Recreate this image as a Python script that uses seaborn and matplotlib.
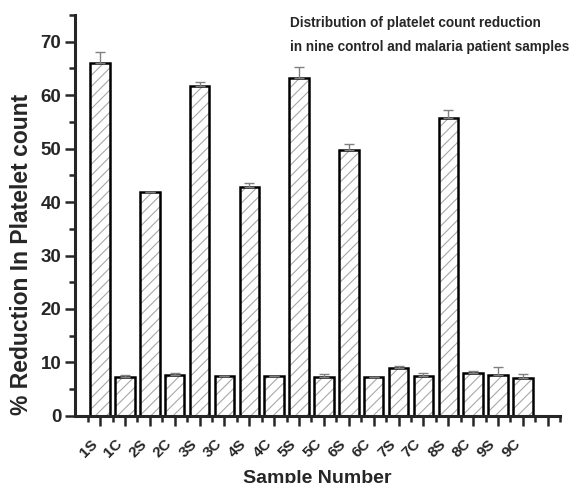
import numpy as np
import pandas as pd
import matplotlib
matplotlib.use('Agg')
import matplotlib.pyplot as plt
import seaborn as sns
from matplotlib.ticker import MultipleLocator

samples = ['1S', '1C', '2S', '2C', '3S', '3C', '4S', '4C', '5S',
           '5C', '6S', '6C', '7S', '7C', '8S', '8C', '9S', '9C']
reduction = [66.0, 7.2, 41.8, 7.7, 61.7, 7.55, 42.9, 7.4, 63.3,
             7.2, 49.7, 7.2, 8.9, 7.4, 55.8, 8.1, 7.6, 7.0]
error = [2.1, 0.45, 0.1, 0.35, 0.8, 0.0, 0.6, 0.1, 2.0,
         0.6, 1.2, 0.1, 0.5, 0.55, 1.5, 0.2, 1.45, 0.8]

df = pd.DataFrame({'Sample': samples, 'Reduction': reduction, 'Err': error})

sns.set_style('ticks')
plt.rcParams['font.family'] = ['Liberation Sans', 'DejaVu Sans']
plt.rcParams['hatch.color'] = '#a8a8a8'
plt.rcParams['hatch.linewidth'] = 0.8

fig = plt.figure(figsize=(5.74, 4.83), dpi=100)
ax = fig.add_axes([0.131, 0.139, 0.845, 0.830])

# hatched fill in light gray, then black outlines on top
sns.barplot(data=df, x='Sample', y='Reduction', color='white', edgecolor='#a8a8a8',
            linewidth=0, width=0.78, hatch='///', ax=ax, errorbar=None)
sns.barplot(data=df, x='Sample', y='Reduction', color='black', fill=False,
            linewidth=1.8, width=0.78, ax=ax, errorbar=None)

pos = np.arange(len(samples))
ax.errorbar(pos, df['Reduction'], yerr=[np.zeros(len(error)), df['Err']],
            fmt='none', ecolor='#808080', elinewidth=1.0, capsize=3.5, capthick=1.0)

ax.set_xlim(-1, 18.5)
ax.set_ylim(0, 75)
ax.set_xticks(range(19))
ax.set_xticklabels(samples + [''], rotation=45, ha='right', fontsize=11, fontweight='bold')
ax.set_xticks(np.arange(-0.5, 19, 1), minor=True)
ax.yaxis.set_minor_locator(MultipleLocator(5))
ax.set_yticks(range(0, 80, 10))
ax.set_yticklabels([str(v) for v in range(0, 80, 10)], fontsize=13.5, fontweight='bold')

ax.tick_params(axis='both', which='major', direction='out', length=7, width=1.8)
ax.tick_params(axis='both', which='minor', direction='out', length=4, width=1.8)
ax.tick_params(axis='x', which='major', pad=8)
ax.tick_params(axis='y', which='major', pad=3)

for s in ['left', 'bottom']:
    ax.spines[s].set_linewidth(2.2)
sns.despine(ax=ax)

ax.set_xlabel('Sample Number', fontsize=14, fontweight='bold', labelpad=7)
ax.set_ylabel('% Reduction In Platelet count', fontsize=16.5, fontweight='bold')
ax.yaxis.set_label_coords(-0.087, 0.404)

ax.text(0.442, 0.998, 'Distribution of platelet count reduction\nin nine control and malaria patient samples',
        transform=ax.transAxes, ha='left', va='top', fontsize=9.8, linespacing=1.95,
        fontweight='bold')

fig.savefig('out.png', dpi=100)
